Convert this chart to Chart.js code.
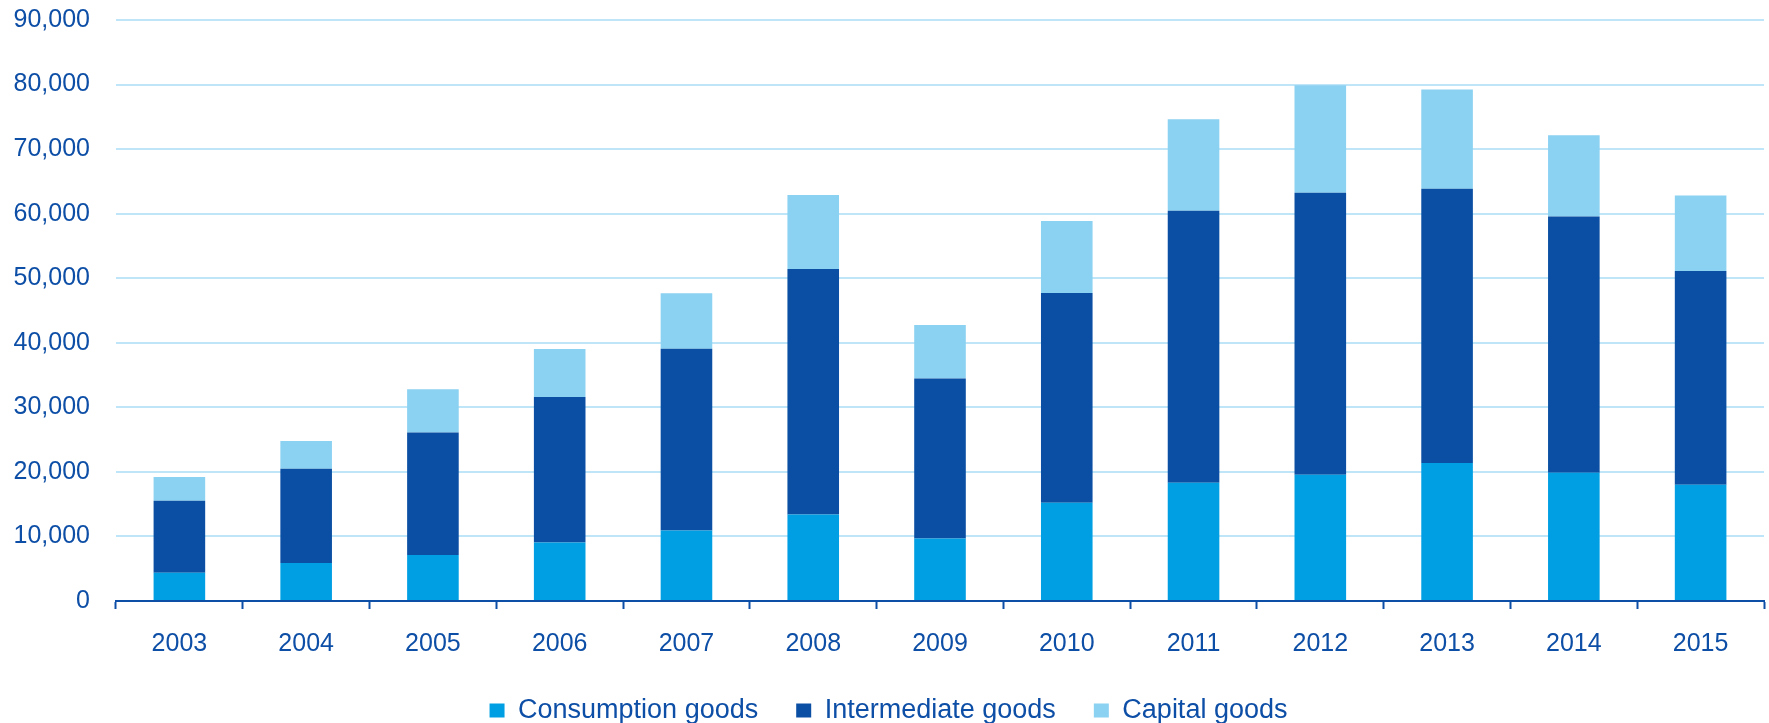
<!DOCTYPE html>
<html>
<head>
<meta charset="utf-8">
<script src="https://cdn.jsdelivr.net/npm/chart.js@4"></script>
<style>
    html, body { margin: 0; padding: 0; background: #ffffff; }
    #wrap { width: 1769px; height: 723px; }
</style>
</head>
<body>
<div id="wrap"><canvas id="goods_chart"></canvas></div>
<script>
const years = ["2003", "2004", "2005", "2006", "2007", "2008", "2009", "2010", "2011", "2012", "2013", "2014", "2015"];

// values
const consumption = [4390, 5900, 7140, 9050, 10920, 13400, 9670, 15220, 18320, 19570, 21370, 19880, 18010];
const intermediate = [11140, 14600, 18950, 22570, 28150, 38040, 24800, 32500, 42130, 43680, 42500, 39690, 33120];
const capital = [3660, 4280, 6720, 7400, 8600, 11450, 8280, 11130, 14180, 16660, 15370, 12580, 11700];

const TEXT_BLUE = "#0d4ea6";
const GRID_BLUE = "#bfe6f8";

Chart.defaults.font.family = "'Liberation Sans', Arial, sans-serif";
Chart.defaults.color = TEXT_BLUE;

new Chart(document.getElementById("goods_chart"), {
    type: "bar",
    data: {
        labels: years,
        datasets: [
            { label: "Consumption goods", data: consumption, backgroundColor: "#009fe3" },
            { label: "Intermediate goods", data: intermediate, backgroundColor: "#0a4fa3" },
            { label: "Capital goods", data: capital, backgroundColor: "#8bd1f2" },
        ],
    },
    options: {
        responsive: true,
        maintainAspectRatio: false,
        animation: false,
        layout: {
            padding: { left: 13, right: 5, top: 20, bottom: -11 },
        },
        datasets: {
            bar: { categoryPercentage: 1, barPercentage: 0.407 },
        },
        plugins: {
            legend: {
                position: "bottom",
                labels: {
                    boxWidth: 15,
                    boxHeight: 14,
                    padding: 38,
                    font: { size: 27 },
                    color: TEXT_BLUE,
                },
            },
            tooltip: { enabled: false },
        },
        scales: {
            x: {
                stacked: true,
                grid: {
                    offset: true,
                    drawOnChartArea: false,
                    drawTicks: true,
                    tickLength: 8,
                    tickWidth: 2,
                    tickColor: TEXT_BLUE,
                },
                border: { display: true, color: TEXT_BLUE, width: 2 },
                ticks: { padding: 20, font: { size: 25 }, color: TEXT_BLUE },
                // chart.js counts tick padding twice, keep the axis band tight
                afterFit: (scale) => {
                    scale.height = 58;
                },
            },
            y: {
                stacked: true,
                min: 0,
                max: 90000,
                grid: { color: GRID_BLUE, lineWidth: 2, drawTicks: false },
                border: { display: false },
                ticks: {
                    stepSize: 10000,
                    padding: 26,
                    font: { size: 25 },
                    color: TEXT_BLUE,
                    callback: (value) => value.toLocaleString("en-US"),
                },
                afterFit: (scale) => {
                    scale.width = 103;
                    scale.paddingTop = 0;
                    scale.paddingBottom = 0;
                },
            },
        },
    },
});
</script>
</body>
</html>
